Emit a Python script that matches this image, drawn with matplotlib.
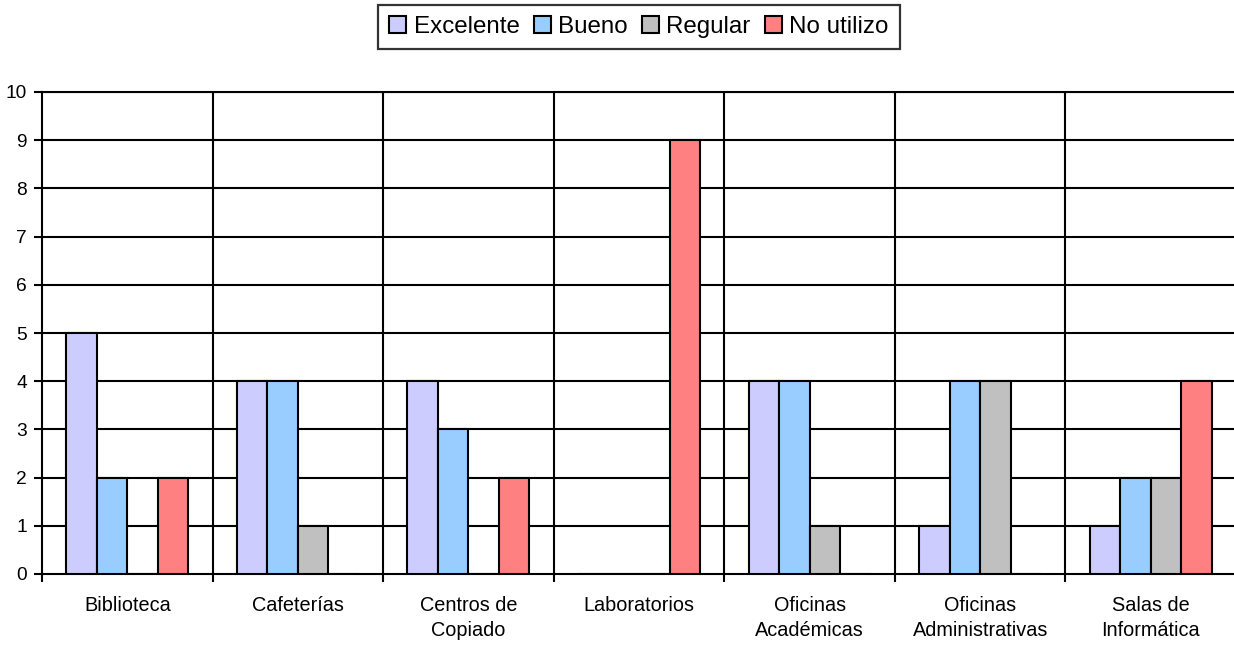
import matplotlib
matplotlib.use("Agg")
import matplotlib.pyplot as plt
import numpy as np

plt.rcParams["font.family"] = ["Liberation Sans", "DejaVu Sans"]

categories = ["Biblioteca", "Cafeterías", "Centros de\nCopiado", "Laboratorios",
              "Oficinas\nAcadémicas", "Oficinas\nAdministrativas", "Salas de\nInformática"]
series = ["Excelente", "Bueno", "Regular", "No utilizo"]
excelente = [5, 4, 4, 0, 4, 1, 1]
bueno = [2, 4, 3, 0, 4, 4, 2]
regular = [0, 1, 0, 0, 1, 4, 2]
no_utilizo = [2, 0, 2, 9, 0, 0, 4]
colors = ["#CCCCFF", "#99CCFF", "#C0C0C0", "#FF8080"]

fig = plt.figure(figsize=(12.34, 6.45), dpi=100)
ax = fig.add_axes([42 / 1234, 71 / 645, 1194 / 1234, 482 / 645])

x = np.arange(len(categories))
w = 0.179
for k, (name, vals) in enumerate(zip(series, [excelente, bueno, regular, no_utilizo])):
    ax.bar(x + (k - 1.5) * w, vals, w, color=colors[k], edgecolor="black",
           linewidth=1.5, label=name, zorder=3)

ax.set_xlim(-0.5, len(categories) - 0.5)
ax.set_ylim(0, 10)
ax.set_yticks(range(0, 11))
for y in range(1, 11):
    ax.axhline(y, color="black", linewidth=1.5, zorder=1)
for b in np.arange(0.5, len(categories) - 0.5, 1):
    ax.axvline(b, color="black", linewidth=1.5, zorder=1)

ax.set_xticks(x, categories)
for lab in ax.get_xticklabels():
    lab.set_linespacing(1.4)
ax.set_xticks(np.arange(-0.5, len(categories) + 0.5, 1), minor=True)
ax.tick_params(axis="x", which="major", length=0, pad=16, labelsize=14.3)
ax.tick_params(axis="x", which="minor", length=6, width=1.5, direction="out")
ax.tick_params(axis="y", length=6, width=1.5, pad=5, labelsize=13.8)
for s in ["left", "bottom", "top"]:
    ax.spines[s].set_linewidth(1.5)
ax.spines["right"].set_visible(False)

leg = fig.legend(loc="center", bbox_to_anchor=(639 / 1234, 1 - 27 / 645), ncol=4,
                 fontsize=17.4, frameon=True, fancybox=False, edgecolor="black",
                 handlelength=0.7, handleheight=0.7, handletextpad=0.3,
                 columnspacing=0.6, borderpad=0.45)
leg.get_frame().set_linewidth(1.6)

fig.savefig("out.png", dpi=100)
